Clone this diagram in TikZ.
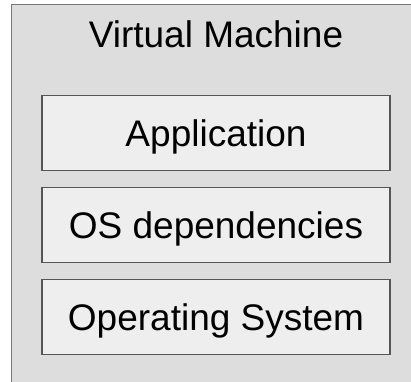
\documentclass[tikz,border=0pt]{standalone}
\usepackage{fontspec}
\setmainfont{Liberation Sans}
\usetikzlibrary{positioning}
\definecolor{VmClr}{HTML}{DDDDDD}
\definecolor{LayerClr}{HTML}{EEEEEE}
\definecolor{EdgeClr}{HTML}{555555}
\definecolor{VmEdgeClr}{HTML}{777777}

\tikzset{
  big/.style={font=\fontsize{37}{44}\selectfont},
  layer/.style={big, draw=EdgeClr, line width=1.5pt, fill=LayerClr,
    minimum width=348pt, minimum height=75pt, inner sep=0pt,
    text height=26.6pt, text depth=0pt}
}

\begin{document}
\begin{tikzpicture}[x=1pt,y=-1pt]
\useasboundingbox (0,0) rectangle (411,381);
\clip (0,0) rectangle (411,381);

% the machine, cut off at right and bottom
\draw[draw=VmEdgeClr, line width=1.5pt, fill=VmClr] (11.5,4.5) rectangle (430,400);
\node[big, anchor=base] (title) at (216,47) {Virtual Machine};

% layers
\node[layer] (app) at (216,133) {Application};
\node[layer, below=15.5pt of app] (deps) {OS dependencies};
\node[layer, below=15.5pt of deps] (os) {Operating System};

\end{tikzpicture}
\end{document}
